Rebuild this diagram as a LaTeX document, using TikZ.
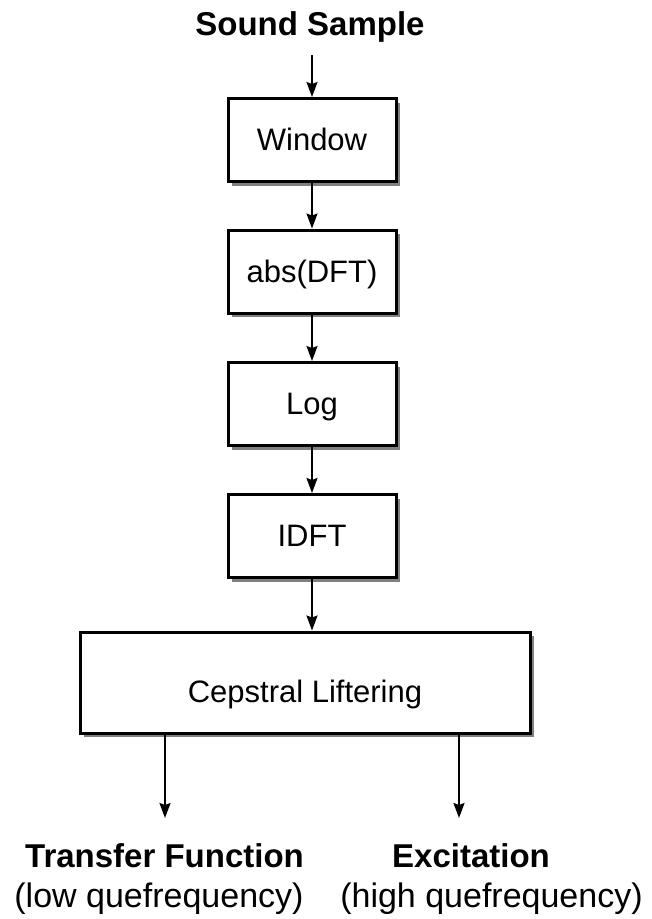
\documentclass[tikz,border=0pt]{standalone}
\usepackage{fontspec}
\setmainfont{Liberation Sans}
\usetikzlibrary{arrows.meta,shadows}
\begin{document}
\begin{tikzpicture}[x=1pt,y=-1pt,
  proc/.style={draw=black, line width=3pt, fill=white, minimum width=168pt, minimum height=83pt, inner sep=0pt,
    font=\fontsize{31}{37}\selectfont, text height=21pt, text depth=0pt,
    drop shadow={shadow xshift=4pt, shadow yshift=-4pt, fill=black!50, opacity=1}},
  flow/.style={line width=1.8pt, -{Stealth[length=15pt,width=11pt,inset=2pt]}},
  title/.style={font=\bfseries\fontsize{33}{40}\selectfont, inner sep=0pt, anchor=base},
  sub/.style={font=\fontsize{34}{41}\selectfont, inner sep=0pt, anchor=base}]
\useasboundingbox (0,0) rectangle (652,919);
\node[title] (src) at (310,35) {Sound Sample};
\node[proc] (win) at (312,140) {Window};
\node[proc] (abs) at (312,271.5) {abs(DFT)};
\node[proc] (log) at (312,404) {Log};
\node[proc] (idft) at (312,536) {IDFT};
\node[proc, minimum width=450pt, minimum height=101pt, text height=39pt] (cep) at (305,682.5) {Cepstral Liftering};
\draw[flow, shorten <=13pt] (src.south -| win.north) -- (win.north);
\draw[flow] (win) -- (abs);
\draw[flow] (abs) -- (log);
\draw[flow] (log) -- (idft);
\draw[flow] (idft.south) -- (idft.south |- cep.north);
\coordinate (tfa) at (165,818);
\coordinate (exa) at (459,818);
\draw[flow] (cep.south -| tfa) -- (tfa);
\draw[flow] (cep.south -| exa) -- (exa);
\node[title] (tf) at (164.5,867) {Transfer Function};
\node[sub] (tfs) at (159,907) {(low quefrequency)};
\node[title] (ex) at (471,867) {Excitation};
\node[sub] (exs) at (491.5,907) {(high quefrequency)};
\end{tikzpicture}
\end{document}
